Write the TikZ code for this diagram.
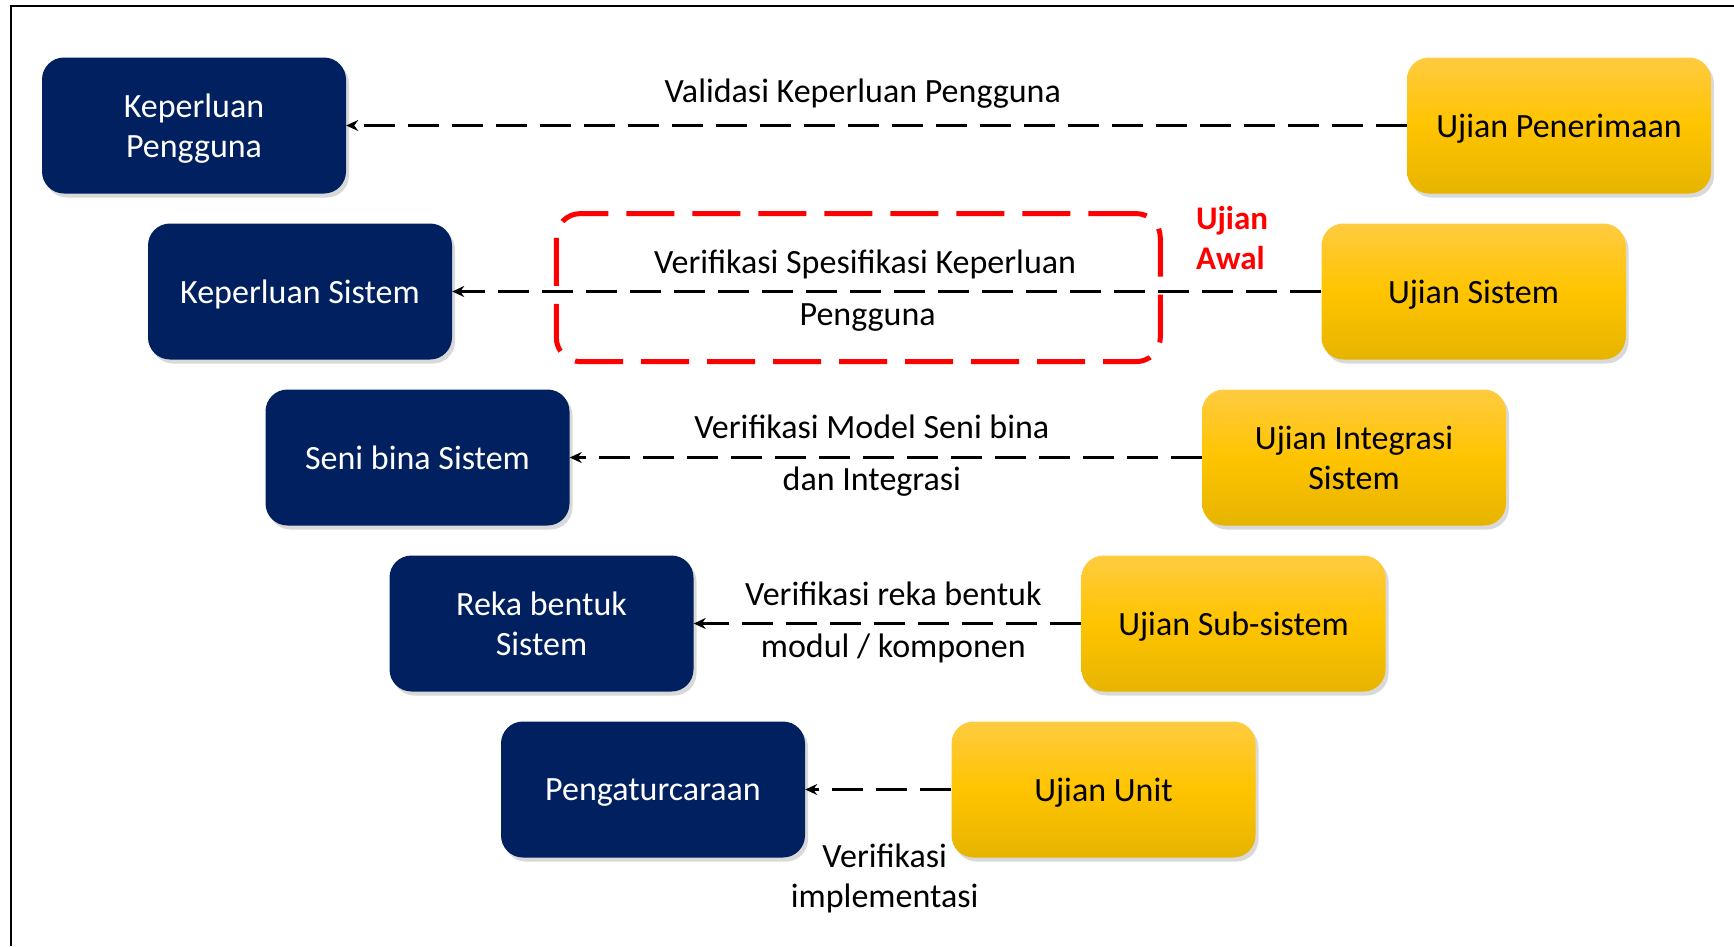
\documentclass[tikz,border=0pt]{standalone}
\usepackage{fontspec}
\setmainfont{Carlito}
\usepackage{tikz}
\usetikzlibrary{arrows.meta}
\usetikzlibrary{shapes}
\usetikzlibrary{positioning}
\usetikzlibrary{shadows}

\definecolor{navy}{HTML}{002060}
\definecolor{gold}{HTML}{FFC400}
\definecolor{goldtop}{HTML}{FFCB40}
\definecolor{goldbot}{HTML}{E6B400}
\definecolor{awal}{HTML}{FF0000}

\tikzset{
  phase/.style={rectangle,rounded corners=22pt,minimum width=304pt,
    minimum height=136pt,align=center,inner sep=0pt,text depth=0pt,
    drop shadow={shadow xshift=3pt,shadow yshift=-4pt,opacity=0.3}},
  design/.style={phase,fill=navy,text=white},
  test/.style={phase,top color=goldtop,bottom color=goldbot,
    middle color=gold,text=black},
  link/.style={draw,->,line width=3.8pt,dash pattern=on 31pt off 13pt},
  lbl/.style={text height=24pt,text depth=8pt,inner sep=0pt},
  awalbox/.style={draw=awal,line width=5pt,dash pattern=on 48pt off 18pt,
    rounded corners=24pt,minimum width=604pt,minimum height=148pt}
}

\begin{document}
\begin{tikzpicture}[x=1pt,y=-1pt,>={Stealth[length=12pt,width=11pt]},
    on grid,font=\fontsize{34}{40}\selectfont]
  \useasboundingbox (0,0) rectangle (1734,946);
  \draw[line width=2pt] (11,946) -- (11,5.5) -- (1734,5.5);

  % left side
  \node[design] (kp) at (194,125.5) {Keperluan\\Pengguna};
  \node[design] (ks) [below right=166pt and 106pt of kp] {Keperluan Sistem};
  \node[design] (sb) [below right=166pt and 117.5pt of ks] {Seni bina Sistem};
  \node[design] (rb) [below right=166pt and 124pt of sb] {Reka bentuk\\Sistem};
  \node[design] (pg) [below right=166pt and 111.5pt of rb] {Pengaturcaraan};

  % right side
  \node[test] (up) [right=1365pt of kp] {Ujian Penerimaan};
  \node[test] (us) [below left=166pt and 85.5pt of up] {Ujian Sistem};
  \node[test] (ui) [below left=166pt and 119.5pt of us] {Ujian Integrasi\\Sistem};
  \node[test] (uss) [below left=166pt and 120.5pt of ui] {Ujian Sub-sistem};
  \node[test] (uu) [below left=166pt and 130pt of uss] {Ujian Unit};

  \path
    (up) edge[link] node[lbl,above=13pt,pos=0.513] {Validasi Keperluan Pengguna} (kp)
    (us) edge[link] node[lbl,above=8.5pt,pos=0.525] {Verifikasi Spesifikasi Keperluan}
                    node[lbl,below=8.5pt,pos=0.522] {Pengguna} (ks)
    (ui) edge[link] node[lbl,above=9.5pt,pos=0.522] {Verifikasi Model Seni bina}
                    node[lbl,below=7pt,pos=0.522] {dan Integrasi} (sb)
    (uss) edge[link] node[lbl,above=8.5pt,pos=0.485] {Verifikasi reka bentuk}
                     node[lbl,below=8.5pt,pos=0.485] {modul / komponen} (rb)
    (uu) edge[link] node[below=52pt,pos=0.456,align=center,inner sep=0pt]
                    {Verifikasi\\implementasi} (pg);

  % early testing
  \node[awalbox] (ra) at (858.3,287.6) {};
  \node[anchor=north west,align=left,inner sep=0pt,text=awal,font=\fontsize{33}{40}\selectfont\bfseries]
    (ua) at ([xshift=33pt,yshift=5pt]ra.north east) {Ujian\\Awal};
\end{tikzpicture}
\end{document}
